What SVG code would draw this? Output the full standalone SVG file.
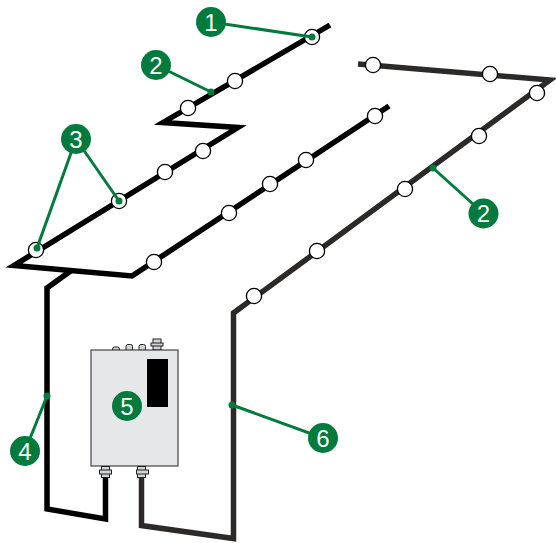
<svg xmlns="http://www.w3.org/2000/svg" width="556" height="543" viewBox="0 0 556 543">
<style>
.cb{fill:none;stroke:#000;stroke-width:5.5;stroke-miterlimit:10}
.cg{fill:none;stroke:#2b2a29;stroke-width:5.5;stroke-miterlimit:10}
.n{fill:#fff;stroke:#000;stroke-width:1.3}
.l{fill:none;stroke:#007a3d;stroke-width:3}
.d{fill:#007a3d}
.b{fill:#007a3d}
.t{fill:#fff;font-family:"Liberation Sans",Arial,sans-serif;font-size:24px;text-anchor:middle}
.c{fill:#d1d3d4;stroke:#222;stroke-width:1}
</style>
<rect width="556" height="543" fill="#fff"/>
<g id="connectors">
<path class="cb" d="M330 25L163 122.500L238 127.500L14 265.500L132 276L389 106"/>
<path class="cb" d="M72 270L47 288V509L105.500 519V478"/>
<path class="cg" d="M358 64L550 80L233.500 313V538.500L141.500 525.500V478"/>
</g>
<g id="sensors">
<circle class="n" cx="312" cy="37" r="7.600"/>
<circle class="n" cx="235" cy="81" r="7.600"/>
<circle class="n" cx="188" cy="108" r="7.600"/>
<circle class="n" cx="203" cy="151" r="7.600"/>
<circle class="n" cx="165" cy="172" r="7.600"/>
<circle class="n" cx="119" cy="201" r="7.600"/>
<circle class="n" cx="36" cy="250" r="7.600"/>
<circle class="n" cx="154" cy="262" r="7.600"/>
<circle class="n" cx="229" cy="213" r="7.600"/>
<circle class="n" cx="270" cy="184" r="7.600"/>
<circle class="n" cx="306" cy="160" r="7.600"/>
<circle class="n" cx="375" cy="116" r="7.600"/>
<circle class="n" cx="373" cy="65" r="7.600"/>
<circle class="n" cx="490" cy="74" r="7.600"/>
<circle class="n" cx="537" cy="93" r="7.600"/>
<circle class="n" cx="479" cy="136" r="7.600"/>
<circle class="n" cx="405" cy="189" r="7.600"/>
<circle class="n" cx="317" cy="251" r="7.600"/>
<circle class="n" cx="254" cy="296" r="7.600"/>
</g>
<g id="controller">
<rect class="c" x="112.500" y="347" width="7" height="4" rx="2"/>
<rect class="c" x="126" y="344.500" width="6.500" height="6.500" rx="2"/>
<rect class="c" x="139" y="344.500" width="6.500" height="6.500" rx="2"/>
<rect class="c" x="153" y="339" width="8" height="11"/>
<rect class="c" x="151" y="343" width="12" height="3"/>
<rect x="91" y="350" width="87" height="116" fill="#e6e7e8" stroke="#222" stroke-width="1"/>
<rect x="147" y="359" width="21" height="48" fill="#000"/>
<rect class="c" x="101.500" y="466.500" width="8" height="11"/>
<rect class="c" x="99.500" y="470" width="12" height="4"/>
<rect class="c" x="137.500" y="466.500" width="8" height="11"/>
<rect class="c" x="136.500" y="470" width="12" height="4"/>
</g>
<g id="leaders">
<path class="l" d="M211 22L312 37"/><circle class="d" cx="312" cy="37" r="3.500"/>
<path class="l" d="M156 65L211 92"/><circle class="d" cx="211" cy="92" r="3.500"/>
<path class="l" d="M76 139L37 248"/><circle class="d" cx="37" cy="248" r="3.500"/>
<path class="l" d="M76 139L119 201"/><circle class="d" cx="119" cy="201" r="3.500"/>
<path class="l" d="M25 451L47 396"/><circle class="d" cx="47" cy="396" r="3.500"/>
<path class="l" d="M323 438L232 405"/><circle class="d" cx="232" cy="405" r="3.500"/>
<path class="l" d="M483 213L433 168"/><circle class="d" cx="433" cy="168" r="3.500"/>
</g>
<g id="badge-1"><circle class="b" cx="211" cy="22" r="15"/><text class="t" x="211" y="30.500">1</text></g>
<g id="badge-2a"><circle class="b" cx="156" cy="65" r="15"/><text class="t" x="156" y="73.500">2</text></g>
<g id="badge-3"><circle class="b" cx="76" cy="139" r="15"/><text class="t" x="76" y="147.500">3</text></g>
<g id="badge-4"><circle class="b" cx="25" cy="451" r="15"/><text class="t" x="25" y="459.500">4</text></g>
<g id="badge-5"><circle class="b" cx="127" cy="406" r="15"/><text class="t" x="127" y="414.500">5</text></g>
<g id="badge-6"><circle class="b" cx="323" cy="438" r="15"/><text class="t" x="323" y="446.500">6</text></g>
<g id="badge-2b"><circle class="b" cx="483.500" cy="213.500" r="15"/><text class="t" x="483.500" y="222">2</text></g>
</svg>
